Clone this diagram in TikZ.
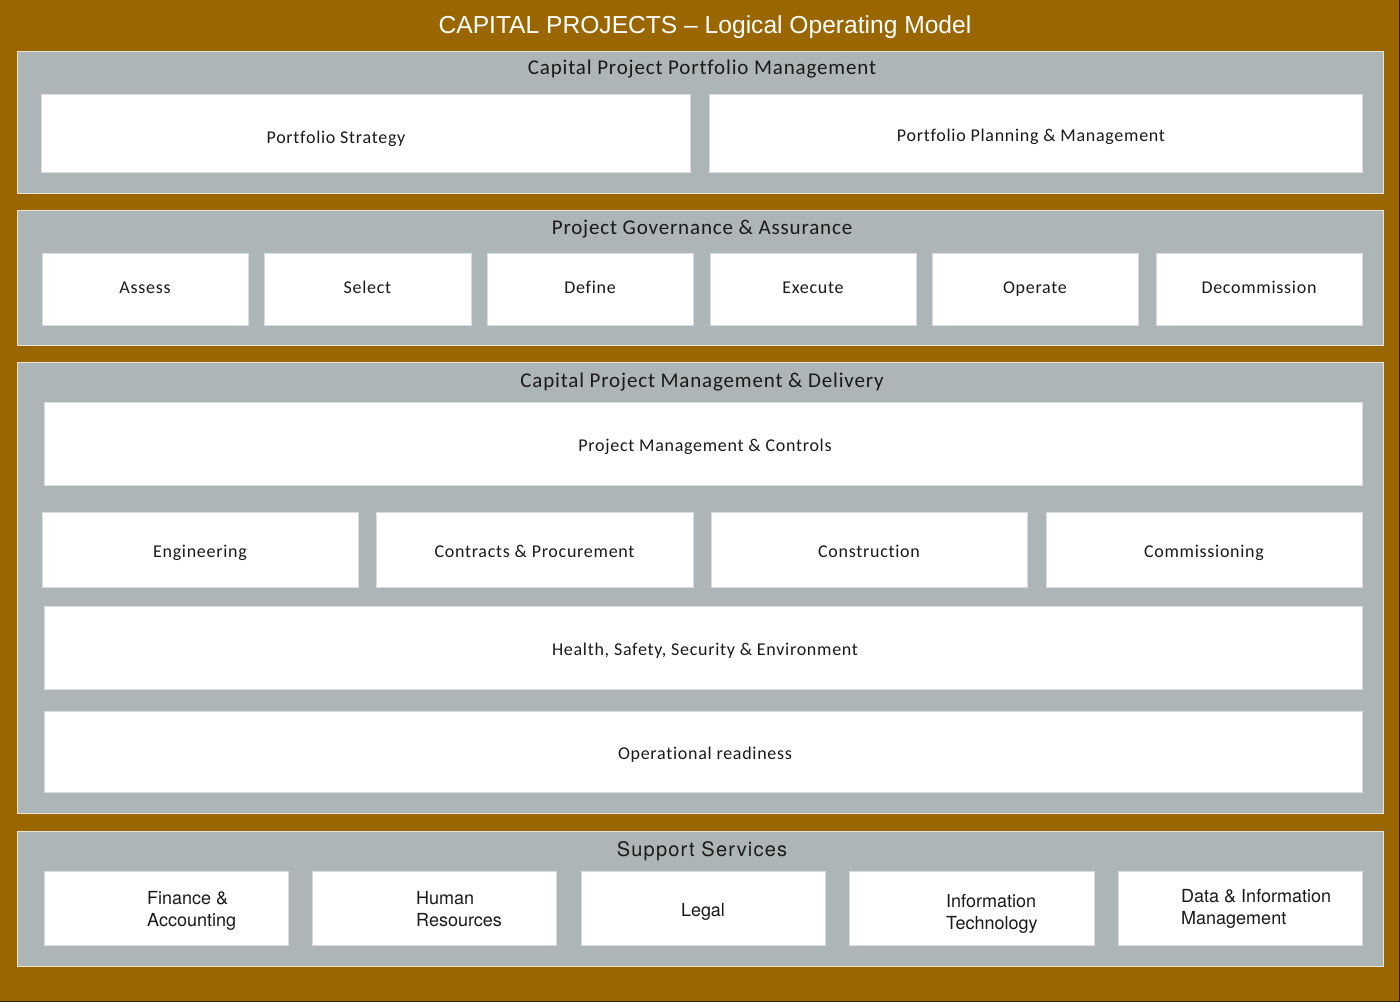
\documentclass[tikz,border=0pt]{standalone}
\usepackage{fontspec}
\setmainfont{Carlito}
\newfontfamily\arialf{Liberation Sans}
\newfontfamily\supf[LetterSpace=6]{TeX Gyre Heros}
\newfontfamily\supg{TeX Gyre Heros}
\newfontfamily\lsf[LetterSpace=4,Ligatures={NoCommon}]{Carlito}
\definecolor{bgbrown}{HTML}{996600}
\definecolor{panelgray}{HTML}{ADB5B6}
\definecolor{panelline}{HTML}{E8E4D0}
\definecolor{boxline}{HTML}{D8DEDF}
\definecolor{txt}{HTML}{1A1A1A}
\tikzset{
  panel/.style={draw=panelline, line width=1pt, fill=panelgray},
  wbox/.style={draw=boxline, line width=1pt, fill=white},
  ptitle/.style={font=\lsf\fontsize{21}{24}\selectfont, text=txt, inner sep=0pt, text height=15pt, text depth=5pt},
  blabel/.style={font=\lsf\fontsize{18}{21}\selectfont, text=txt, inner sep=0pt, text height=13pt, text depth=4.5pt},
  slabel/.style={font=\supg\fontsize{18}{21.5}\selectfont, text=txt, inner sep=0pt, align=left, anchor=west},
}
\begin{document}
\begin{tikzpicture}[x=1pt,y=-1pt]
\useasboundingbox (0,0) rectangle (1400,1002);
\fill[bgbrown] (0,0) rectangle (1400,1002);
\draw[black!70!bgbrown, line width=1.5pt] (0,1001.25) -- (1399.25,1001.25) -- (1399.25,0);
\node[font=\arialf\fontsize{24.6}{28}\selectfont, text=white, inner sep=0pt] (title) at (705,27) {CAPITAL PROJECTS \textendash{} Logical Operating Model};

% Panel 1
\draw[panel] (17,51) rectangle (1383,193);
\node[ptitle] (p1t) at (702,69) {Capital Project Portfolio Management};
\draw[wbox] (41,94) rectangle (690,172);
\node[blabel] (ps) at (336,139) {Portfolio Strategy};
\draw[wbox] (709,94) rectangle (1362,172);
\node[blabel] (ppm) at (1031,137) {Portfolio Planning \& Management};

% Panel 2
\draw[panel] (17,210) rectangle (1383,345);
\node[ptitle] (p2t) at (702,229) {Project Governance \& Assurance};
\foreach \a/\b/\t/\n in {42/248/Assess/ga,264/471/Select/gs,487/693/Define/gd,710/916/Execute/ge,932/1138/Operate/go,1156/1362/Decommission/gdc}{
  \draw[wbox] (\a,253) rectangle (\b,325);
  \node[blabel] (\n) at ({(\a+\b)/2},289) {\t};
}

% Panel 3
\draw[panel] (17,362) rectangle (1383,813);
\node[ptitle] (p3t) at (702,382) {Capital Project Management \& Delivery};
\draw[wbox] (44,402) rectangle (1362,485);
\node[blabel] (pmc) at (705,447) {Project Management \& Controls};
\foreach \a/\b/\t/\n in {42/358/Engineering/de,376/693/Contracts \& Procurement/dcp,711/1027/Construction/dc,1046/1362/Commissioning/dcm}{
  \draw[wbox] (\a,512) rectangle (\b,587);
  \node[blabel] (\n) at ({(\a+\b)/2},553) {\t};
}
\draw[wbox] (44,606) rectangle (1362,689);
\node[blabel] (hsse) at (705,651) {Health, Safety, Security \& Environment};
\draw[wbox] (44,711) rectangle (1362,792);
\node[blabel] (opr) at (705,755) {Operational readiness};

% Panel 4
\draw[panel] (17,831) rectangle (1383,966);
\node[font=\supf\fontsize{20}{24}\selectfont, text=txt, inner sep=0pt] (p4t) at (702,851) {Support Services};
\draw[wbox] (44,871) rectangle (288,945);
\node[slabel] (sfa) at (147,911) {Finance \&\\Accounting};
\draw[wbox] (312,871) rectangle (556,945);
\node[slabel] (shr) at (416,909) {Human\\Resources};
\draw[wbox] (581,871) rectangle (825,945);
\node[font=\supg\fontsize{18}{21}\selectfont, text=txt, inner sep=0pt] (slg) at (703,912) {Legal};
\draw[wbox] (849,871) rectangle (1094,945);
\node[slabel] (sit) at (946,914) {Information\\Technology};
\draw[wbox] (1118,871) rectangle (1362,945);
\node[slabel] (sdm) at (1181,909) {Data \& Information\\Management};
\end{tikzpicture}
\end{document}
